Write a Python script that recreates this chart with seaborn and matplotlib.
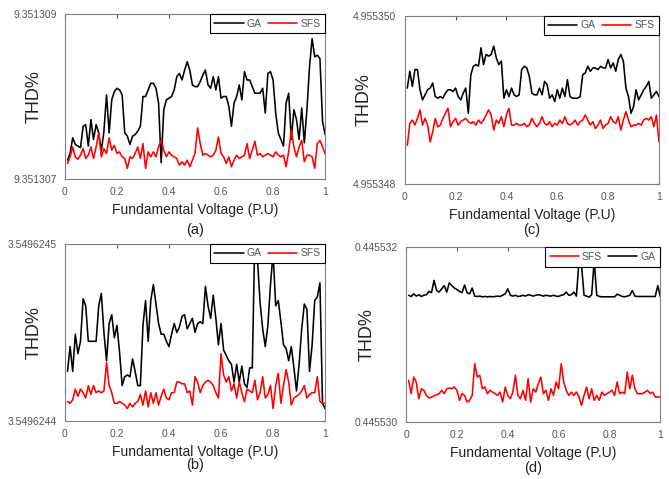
import numpy as np
import pandas as pd
import matplotlib
matplotlib.use("Agg")
import matplotlib.pyplot as plt
import seaborn as sns

# x positions: fundamental voltage (P.U)
voltage = [round(0.01 * i, 2) for i in range(1, 101)]

# Values are read as relative position inside each panel's y-range [lo, hi]
ga_a = [0.115,0.155,0.25,0.21,0.20,0.19,0.32,0.33,0.20,0.36,
        0.24,0.33,0.28,0.17,0.29,0.51,0.28,0.48,0.53,0.55,
        0.54,0.51,0.28,0.26,0.21,0.26,0.27,0.29,0.32,0.50,
        0.50,0.54,0.58,0.58,0.55,0.46,0.10,0.42,0.48,0.49,
        0.50,0.54,0.62,0.64,0.60,0.66,0.71,0.66,0.57,0.56,
        0.56,0.59,0.63,0.66,0.57,0.55,0.62,0.54,0.62,0.49,
        0.50,0.50,0.44,0.32,0.46,0.50,0.57,0.48,0.65,0.60,
        0.60,0.56,0.52,0.52,0.52,0.55,0.40,0.64,0.65,0.60,
        0.40,0.28,0.24,0.20,0.46,0.52,0.24,0.42,0.36,0.24,
        0.43,0.22,0.42,0.68,0.85,0.74,0.75,0.73,0.35,0.27]
sfs_a = [0.095,0.135,0.195,0.135,0.12,0.145,0.185,0.125,0.145,0.195,
         0.125,0.195,0.28,0.135,0.185,0.155,0.25,0.175,0.205,0.155,
         0.165,0.135,0.125,0.065,0.135,0.125,0.155,0.195,0.125,0.215,
         0.065,0.165,0.135,0.165,0.135,0.195,0.235,0.175,0.135,0.165,
         0.145,0.135,0.125,0.085,0.105,0.085,0.115,0.075,0.115,0.155,
         0.31,0.215,0.145,0.155,0.145,0.135,0.145,0.175,0.255,0.155,
         0.135,0.095,0.135,0.075,0.115,0.145,0.125,0.135,0.145,0.215,
         0.125,0.175,0.23,0.145,0.155,0.135,0.145,0.155,0.145,0.135,
         0.165,0.145,0.135,0.145,0.075,0.165,0.30,0.195,0.135,0.195,
         0.235,0.105,0.145,0.145,0.135,0.065,0.215,0.235,0.195,0.155]
ga_b = [0.28,0.42,0.28,0.49,0.38,0.45,0.69,0.65,0.45,0.45,
        0.45,0.45,0.65,0.72,0.50,0.34,0.55,0.60,0.47,0.54,
        0.39,0.20,0.25,0.26,0.25,0.35,0.28,0.20,0.20,0.54,
        0.68,0.45,0.68,0.77,0.66,0.55,0.49,0.49,0.45,0.42,
        0.49,0.55,0.50,0.53,0.59,0.60,0.52,0.55,0.58,0.50,
        0.55,0.56,0.55,0.76,0.65,0.58,0.71,0.58,0.43,0.55,
        0.40,0.37,0.34,0.32,0.22,0.32,0.22,0.31,0.21,0.19,
        0.30,0.30,1.05,0.91,0.67,0.52,0.42,0.54,0.77,0.95,
        0.65,0.68,0.56,0.43,0.41,0.34,0.42,0.30,0.17,0.32,
        0.52,0.66,0.63,0.28,0.43,0.68,0.70,0.78,0.10,0.07]
sfs_b = [0.11,0.10,0.12,0.18,0.14,0.18,0.16,0.13,0.20,0.15,
         0.20,0.16,0.17,0.16,0.17,0.33,0.20,0.16,0.10,0.10,
         0.11,0.10,0.09,0.07,0.10,0.08,0.10,0.11,0.15,0.09,
         0.17,0.08,0.16,0.10,0.16,0.09,0.14,0.18,0.13,0.12,
         0.16,0.16,0.22,0.22,0.21,0.21,0.16,0.17,0.09,0.25,
         0.22,0.16,0.20,0.22,0.23,0.22,0.20,0.16,0.13,0.38,
         0.26,0.22,0.25,0.17,0.21,0.13,0.22,0.16,0.11,0.18,
         0.17,0.16,0.23,0.12,0.16,0.25,0.13,0.15,0.20,0.07,
         0.20,0.27,0.10,0.20,0.29,0.22,0.09,0.13,0.14,0.15,
         0.17,0.20,0.13,0.15,0.16,0.16,0.25,0.11,0.10,0.10]
ga_c = [0.57,0.67,0.58,0.68,0.68,0.56,0.50,0.53,0.56,0.57,
        0.60,0.52,0.51,0.52,0.51,0.54,0.56,0.56,0.55,0.57,
        0.52,0.50,0.54,0.57,0.42,0.65,0.70,0.71,0.70,0.81,
        0.71,0.77,0.76,0.77,0.82,0.75,0.71,0.73,0.51,0.56,
        0.52,0.57,0.53,0.52,0.53,0.68,0.70,0.69,0.64,0.54,
        0.53,0.53,0.57,0.53,0.61,0.59,0.51,0.53,0.49,0.56,
        0.51,0.57,0.52,0.62,0.52,0.51,0.51,0.51,0.52,0.65,
        0.66,0.70,0.67,0.69,0.69,0.68,0.70,0.69,0.69,0.74,
        0.69,0.72,0.67,0.74,0.77,0.73,0.57,0.52,0.42,0.46,
        0.56,0.50,0.53,0.56,0.58,0.61,0.51,0.53,0.55,0.52]
sfs_c = [0.23,0.36,0.38,0.35,0.39,0.44,0.35,0.39,0.35,0.25,
         0.31,0.39,0.34,0.35,0.39,0.42,0.45,0.34,0.37,0.39,
         0.35,0.37,0.38,0.39,0.37,0.36,0.37,0.35,0.38,0.36,
         0.38,0.41,0.44,0.41,0.32,0.38,0.36,0.40,0.34,0.41,
         0.45,0.35,0.35,0.36,0.35,0.35,0.36,0.34,0.35,0.39,
         0.36,0.34,0.36,0.40,0.36,0.35,0.37,0.34,0.36,0.35,
         0.38,0.36,0.40,0.36,0.35,0.36,0.38,0.35,0.37,0.38,
         0.41,0.38,0.35,0.37,0.33,0.35,0.38,0.33,0.35,0.36,
         0.40,0.37,0.36,0.40,0.32,0.38,0.43,0.38,0.34,0.35,
         0.35,0.36,0.35,0.38,0.39,0.38,0.40,0.34,0.41,0.25]
ga_d = [0.725,0.718,0.733,0.72,0.728,0.718,0.725,0.728,0.747,0.74,
        0.81,0.752,0.743,0.762,0.78,0.743,0.796,0.78,0.766,0.758,
        0.747,0.74,0.783,0.74,0.733,0.766,0.72,0.718,0.72,0.716,
        0.718,0.716,0.718,0.716,0.718,0.72,0.718,0.725,0.733,0.762,
        0.725,0.72,0.725,0.718,0.72,0.725,0.72,0.728,0.725,0.72,
        0.725,0.728,0.725,0.72,0.725,0.722,0.72,0.725,0.72,0.718,
        0.725,0.728,0.743,0.725,0.728,0.743,0.72,0.92,0.90,0.725,
        0.72,0.714,0.728,0.92,0.725,0.718,0.716,0.716,0.716,0.716,
        0.716,0.716,0.731,0.725,0.718,0.716,0.72,0.725,0.752,0.72,
        0.718,0.718,0.718,0.718,0.718,0.718,0.718,0.718,0.78,0.718]
sfs_d = [0.238,0.162,0.257,0.229,0.133,0.19,0.181,0.152,0.137,0.143,
         0.149,0.156,0.162,0.181,0.162,0.19,0.194,0.19,0.2,0.181,
         0.124,0.162,0.152,0.114,0.124,0.152,0.333,0.257,0.267,0.19,
         0.2,0.162,0.181,0.171,0.162,0.152,0.171,0.114,0.2,0.152,
         0.133,0.171,0.267,0.152,0.133,0.181,0.124,0.248,0.114,0.19,
         0.171,0.219,0.257,0.162,0.181,0.124,0.19,0.152,0.229,0.19,
         0.333,0.229,0.181,0.152,0.171,0.152,0.171,0.143,0.095,0.152,
         0.2,0.133,0.19,0.124,0.152,0.124,0.171,0.152,0.162,0.171,
         0.181,0.152,0.229,0.162,0.171,0.162,0.286,0.19,0.267,0.19,
         0.162,0.162,0.162,0.171,0.181,0.162,0.171,0.143,0.143,0.143]

# y-axis limits and their tick labels
ylims = {
    "a": (9.351307, 9.351309, "9.351307", "9.351309"),
    "b": (3.5496244, 3.5496245, "3.5496244", "3.5496245"),
    "c": (4.955348, 4.955350, "4.955348", "4.955350"),
    "d": (0.445530, 0.445532, "0.445530", "0.445532"),
}
series = {"a": (ga_a, sfs_a), "b": (ga_b, sfs_b), "c": (ga_c, sfs_c), "d": (ga_d, sfs_d)}
legend_order = {"a": ["GA", "SFS"], "b": ["GA", "SFS"], "c": ["GA", "SFS"], "d": ["SFS", "GA"]}
xticks = [0, 0.2, 0.4, 0.6, 0.8, 1]
xticklabels = ["0", "0.2", "0.4", "0.6", "0.8", "1"]

sns.set_theme(style="white")
plt.rcParams["font.family"] = ["Liberation Sans", "DejaVu Sans"]

# layout (figure fractions)
pos = {
    "a": [0.097, 0.626, 0.389, 0.345],
    "c": [0.605, 0.616, 0.380, 0.351],
    "b": [0.097, 0.121, 0.389, 0.370],
    "d": [0.607, 0.119, 0.380, 0.365],
}
ylab_x = {"a": -0.085, "b": -0.085, "c": -0.125, "d": -0.118}
cap_y = {"a": 0.52, "c": 0.52, "b": 0.029, "d": 0.023}

palette = {"GA": "black", "SFS": "red"}
grey = "#555555"

fig = plt.figure(figsize=(6.69, 4.79), dpi=100)
for key in ["a", "c", "b", "d"]:
    lo, hi, lo_s, hi_s = ylims[key]
    ga, sfs = series[key]
    rng = hi - lo
    df = pd.DataFrame({
        "V": voltage * 2,
        "THD": [lo + v * rng for v in ga] + [lo + v * rng for v in sfs],
        "Method": ["GA"] * len(ga) + ["SFS"] * len(sfs),
    })
    ax = fig.add_axes(pos[key])
    sns.lineplot(data=df, x="V", y="THD", hue="Method", hue_order=legend_order[key],
                 palette=palette, estimator=None, linewidth=1.15, ax=ax)
    ax.set_xlim(0, 1)
    ax.set_ylim(lo, hi)
    ax.set_xticks(xticks)
    ax.set_xticklabels(xticklabels)
    ax.set_yticks([lo, hi])
    ax.set_yticklabels([lo_s, hi_s])
    ax.tick_params(direction="in", length=3, width=0.8, top=True, right=True,
                   labelsize=7.5, colors=grey, pad=6)
    ax.tick_params(axis="both", labelcolor=grey)
    for s in ax.spines.values():
        s.set_color("#808080")
        s.set_linewidth(0.8)
    ax.set_xlabel("Fundamental Voltage (P.U)", fontsize=10, color="#222222", labelpad=4)
    ax.set_ylabel("THD%", fontsize=13, color="#222222")
    ax.yaxis.set_label_coords(ylab_x[key], 0.5)
    handles, labels = ax.get_legend_handles_labels()
    leg = ax.legend(handles, labels, ncol=2, loc="upper right", fontsize=7.5,
                    frameon=True, fancybox=False, edgecolor="black", framealpha=1,
                    borderaxespad=0, handlelength=2.8, columnspacing=0.6,
                    handletextpad=0.3, borderpad=0.45)
    leg.get_frame().set_linewidth(0.8)
    for t in leg.get_texts():
        t.set_color(grey)
    bb = pos[key]
    fig.text(bb[0] + bb[2] / 2, cap_y[key], "(" + key + ")", ha="center", va="center",
             fontsize=10.5, color="#222222")

fig.savefig("out.png", dpi=100)
